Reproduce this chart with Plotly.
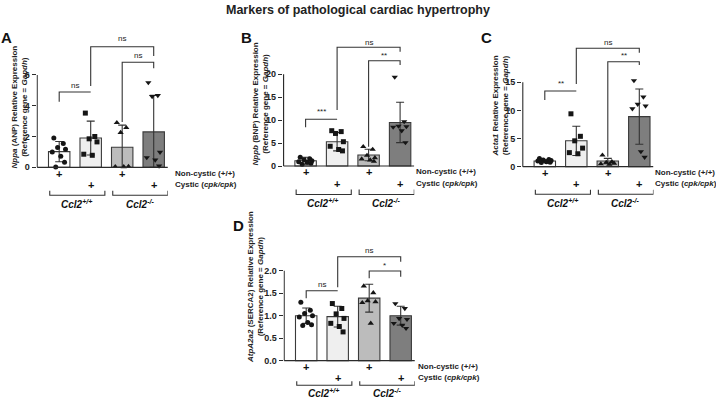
import plotly.graph_objects as go

W, H = 716, 400
FONT = "Liberation Sans, Arial, sans-serif"
INK = "#2b2b2b"

# ---------------- data ----------------
groups = ["Ccl2+/+ non-cystic", "Ccl2+/+ cystic", "Ccl2-/- non-cystic", "Ccl2-/- cystic"]

nppa_mean = [1.02, 1.90, 1.30, 2.30]
nppa_sd = [0.66, 1.10, 1.44, 2.37]
nppa_pts = [
    [1.91, 1.54, 1.28, 1.17, 1.00, 0.72, 0.33, 0.02],
    [3.52, 2.00, 1.85, 1.65, 0.85, 0.78],
    [2.90, 2.57, 2.26, 0.05, 0.04, 0.03],
    [5.50, 4.67, 4.60, 0.98, 0.63, 0.48, 0.09],
]

nppb_mean = [1.15, 5.30, 2.40, 9.50]
nppb_sd = [0.75, 2.00, 1.25, 4.40]
nppb_pts = [
    [1.90, 1.60, 1.35, 1.15, 0.95, 0.80, 0.60, 0.40],
    [7.70, 7.50, 7.10, 5.30, 4.30, 3.60, 3.30],
    [4.20, 3.60, 2.30, 1.80, 1.50, 1.30, 1.00],
    [19.40, 9.70, 8.70, 8.60, 8.50, 7.70, 5.10],
]

acta1_mean = [1.00, 4.60, 1.00, 8.90]
acta1_sd = [0.22, 2.60, 0.48, 4.90]
acta1_pts = [
    [1.45, 1.30, 1.20, 1.10, 1.00, 0.90, 0.80, 0.75],
    [9.40, 5.40, 4.60, 3.30, 2.50, 2.30],
    [2.05, 0.90, 0.75, 0.60, 0.50, 0.40],
    [15.30, 12.40, 11.10, 10.80, 10.30, 2.70, 1.70],
]

serca_mean = [1.00, 0.98, 1.39, 1.00]
serca_sd = [0.17, 0.23, 0.31, 0.21]
serca_pts = [
    [1.30, 1.12, 1.05, 1.00, 0.97, 0.85, 0.80, 0.78],
    [1.27, 1.16, 1.04, 0.94, 0.83, 0.76, 0.64],
    [1.66, 1.51, 1.33, 1.31, 1.29, 0.83],
    [1.27, 1.16, 0.94, 0.92, 0.83, 0.79, 0.72],
]

# significance brackets: (bar_from, bar_to, height, left-leg end, right-leg end, label, label height)
nppa_sig = [(0, 1, 4.89, 4.26, None, "ns", 5.34), (1, 3, 7.83, 5.28, 7.23, "ns", 8.38), (2, 3, 6.82, 2.94, 6.43, "ns", 7.29)]
nppb_sig = [(0, 1, 10.19, 8.44, None, "***", 11.9), (1, 3, 25.89, 12.21, 24.93, "ns", 26.9), (2, 3, 22.97, 4.21, 22.03, "**", 24.0)]
acta1_sig = [(0, 1, 13.45, 11.85, None, "**", 14.7), (1, 3, 21.04, 14.7, 20.26, "ns", 22.1), (2, 3, 18.66, 1.78, 18.07, "**", 19.7)]
serca_sig = [(0, 1, 1.556, 1.387, None, "ns", 1.704), (1, 3, 2.311, 1.631, 2.20, "ns", 2.444), (2, 3, 1.993, 1.831, 1.867, "*", 2.11)]

nppa_ticks = [0, 2, 4, 6]
nppb_ticks = [0, 5, 10, 15, 20]
acta1_ticks = [0, 5, 10, 15]
serca_ticks = [0.0, 0.5, 1.0, 1.5, 2.0]

titles = [
    "<i>Nppa</i> (ANP) Relative Expression<br>(Reference gene = <i>Gapdh</i>)",
    "<i>Nppb</i> (BNP) Relative Expression<br>(Reference gene = <i>Gapdh</i>)",
    "<i>Acta1</i> Relative Expression<br>(Reference gene = <i>Gapdh</i>)",
    "<i>AtpA2a2</i> (SERCA2) Relative Expression<br>(Reference gene = <i>Gapdh</i>)",
]

# ---------------- layout geometry (pixels) ----------------
U = 31.5            # px per bar slot
XR = [-0.72, 3.45]
panels = [
    dict(letter="A", mean=nppa_mean, sd=nppa_sd, pts=nppa_pts, sig=nppa_sig, ticks=nppa_ticks, fmt="",
         bar1=59.2, zero=167.3, s=15.4, top=30, bot=212, under=(7, 18, 23.5, 28, 36.5), title=titles[0],
         tpos=(18.5, 107), lpos=(6, 38), labx=3.62),
    dict(letter="B", mean=nppb_mean, sd=nppb_sd, pts=nppb_pts, sig=nppb_sig, ticks=nppb_ticks, fmt="",
         bar1=305.6, zero=166.0, s=4.585, top=30, bot=212, under=(6.5, 18, 23.5, 28.5, 37), title=titles[1],
         tpos=(259.5, 104), lpos=(246, 38), labx=3.45),
    dict(letter="C", mean=acta1_mean, sd=acta1_sd, pts=acta1_pts, sig=acta1_sig, ticks=acta1_ticks, fmt="",
         bar1=544.8, zero=166.7, s=5.627, top=30, bot=212, under=(6, 17.5, 23, 27.5, 36.5), title=titles[2],
         tpos=(499.5, 106), lpos=(486, 38), labx=3.42),
    dict(letter="D", mean=serca_mean, sd=serca_sd, pts=serca_pts, sig=serca_sig, ticks=serca_ticks, fmt=".1f",
         bar1=306.2, zero=360.7, s=45.0, top=240, bot=400, under=(6.5, 17.5, 20.5, 24.5, 32.5), title=titles[3],
         tpos=(255, 287), lpos=(238, 226), labx=3.5),
]

bar_colors = ["#ffffff", "#efefef", "#bcbcbc", "#7e7e7e"]
symbols = ["circle", "square", "triangle-up", "triangle-down"]
jitter = [-0.17, 0.13, -0.05, 0.2, -0.22, 0.05, 0.17, -0.11]

fig = go.Figure()
annotations = []
layout_axes = {}

for i, p in enumerate(panels):
    sfx = "" if i == 0 else str(i + 1)
    xa, ya = "x" + sfx, "y" + sfx
    left_px = p["bar1"] + XR[0] * U
    right_px = left_px + (XR[1] - XR[0]) * U
    yr = [(p["zero"] - p["bot"]) / p["s"], (p["zero"] - p["top"]) / p["s"]]
    layout_axes["xaxis" + sfx] = dict(domain=[left_px / W, right_px / W], range=XR, anchor=ya,
                                      visible=False, fixedrange=True)
    layout_axes["yaxis" + sfx] = dict(domain=[1 - p["bot"] / H, 1 - p["top"] / H], range=yr, anchor=xa,
                                      showgrid=False, zeroline=False, showline=False,
                                      tickvals=p["ticks"], tickformat=p["fmt"], ticks="outside",
                                      ticklen=4, tickwidth=1.1, tickcolor=INK,
                                      tickfont=dict(family=FONT, size=9, color="#222", weight="bold"),
                                      fixedrange=True)
    xs = list(range(4))
    # bars with SD
    fig.add_trace(go.Bar(x=xs, y=p["mean"], width=0.68, xaxis=xa, yaxis=ya,
                         marker=dict(color=bar_colors, line=dict(color="#3a3a3a", width=1.1)),
                         error_y=dict(type="data", array=p["sd"],
                                      arrayminus=[min(s_, m_) for s_, m_ in zip(p["sd"], p["mean"])],
                                      color="#333333", thickness=1.1, width=4),
                         showlegend=False, hoverinfo="skip"))
    # individual points
    for g in range(4):
        vals = p["pts"][g]
        fig.add_trace(go.Scatter(x=[g + jitter[k % len(jitter)] for k in range(len(vals))], y=vals,
                                 mode="markers", xaxis=xa, yaxis=ya, cliponaxis=False,
                                 marker=dict(symbol=symbols[g], size=5 if g < 2 else 5.5, color="#151515"),
                                 showlegend=False, hoverinfo="skip"))
    # axis lines
    ax_x = XR[0] + 0.02
    fig.add_trace(go.Scatter(x=[ax_x, ax_x, None, ax_x, XR[1]], y=[p["ticks"][-1], 0, None, 0, 0],
                             mode="lines", line=dict(color=INK, width=1.2), xaxis=xa, yaxis=ya,
                             showlegend=False, hoverinfo="skip"))
    # significance brackets
    bx, by = [], []
    for (a, b, h, la, rb, lab, lh) in p["sig"]:
        rb = h if rb is None else rb
        bx += [a, a, b, b, None]
        by += [la, h, h, rb, None]
        annotations.append(dict(x=(a + b) / 2, y=lh, xref=xa, yref=ya, text=lab, showarrow=False,
                                font=dict(family=FONT, size=8, color="#222"), yanchor="middle"))
    fig.add_trace(go.Scatter(x=bx, y=by, mode="lines", line=dict(color="#333333", width=1.1),
                             xaxis=xa, yaxis=ya, showlegend=False, hoverinfo="skip"))
    # genotype rows below axis
    r1, r2, leg_top, leg_bot, lab_off = p["under"]
    yv = lambda off: -off / p["s"]
    for g in range(4):
        annotations.append(dict(x=g, y=yv(r1 if g % 2 == 0 else r2), xref=xa, yref=ya, text="+",
                                showarrow=False, font=dict(family=FONT, size=11, color="#111", weight="bold"),
                                yanchor="middle"))
    lab_x = XR[1] - 0.01
    lab_shift = (p["labx"] - lab_x) * U
    annotations.append(dict(x=lab_x, xshift=lab_shift, y=yv(r1 - 0.5), xref=xa, yref=ya,
                            text="Non-cystic (+/+)", showarrow=False, xanchor="left", yanchor="middle",
                            font=dict(family=FONT, size=8, color="#222", weight="bold")))
    annotations.append(dict(x=lab_x, xshift=lab_shift, y=yv(r2 - 0.5), xref=xa, yref=ya,
                            text="Cystic (<i>cpk/cpk</i>)", showarrow=False, xanchor="left", yanchor="middle",
                            font=dict(family=FONT, size=8, color="#222", weight="bold")))
    ux, uy = [], []
    for a in (0, 2):
        ux += [a - 0.3, a - 0.3, a + 1.45, a + 1.45, None]
        uy += [yv(leg_top), yv(leg_bot), yv(leg_bot), yv(leg_top), None]
    fig.add_trace(go.Scatter(x=ux, y=uy, mode="lines", line=dict(color="#333333", width=1.1),
                             xaxis=xa, yaxis=ya, showlegend=False, hoverinfo="skip"))
    for a, txt in ((0, "<i>Ccl2<sup>+/+</sup></i>"), (2, "<i>Ccl2<sup>-/-</sup></i>")):
        annotations.append(dict(x=a + 0.55, y=yv(lab_off), xref=xa, yref=ya, text=txt, showarrow=False,
                                yanchor="middle",
                                font=dict(family=FONT, size=10, color="#111", weight="bold")))
    # y title
    annotations.append(dict(x=p["tpos"][0] / W, y=1 - p["tpos"][1] / H, xref="paper", yref="paper",
                            text=p["title"], textangle=-90, showarrow=False, xanchor="center", yanchor="middle",
                            font=dict(family=FONT, size=8, color="#222", weight="bold")))
    # panel letter
    annotations.append(dict(x=p["lpos"][0] / W, y=1 - p["lpos"][1] / H, xref="paper", yref="paper",
                            text=p["letter"], showarrow=False, xanchor="center", yanchor="middle",
                            font=dict(family=FONT, size=15, color="#111", weight="bold")))

annotations.append(dict(x=358 / W, y=1 - 10 / H, xref="paper", yref="paper",
                        text="Markers of pathological cardiac hypertrophy", showarrow=False,
                        xanchor="center", yanchor="middle",
                        font=dict(family=FONT, size=12.5, color="#222", weight="bold")))

fig.update_layout(width=W, height=H, margin=dict(l=0, r=0, t=0, b=0),
                  paper_bgcolor="white", plot_bgcolor="rgba(0,0,0,0)", barmode="overlay",
                  annotations=annotations, **layout_axes)

fig.write_html("out.html", config={"displayModeBar": False},
               post_script="document.body.style.margin='0px';document.body.style.overflow='hidden';")
